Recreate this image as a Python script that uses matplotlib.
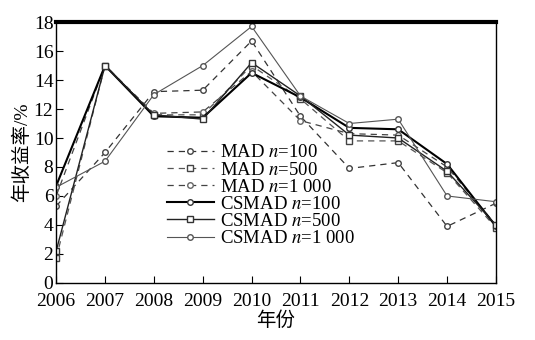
import matplotlib.pyplot as plt

plt.rcParams['font.family'] = ['Liberation Serif', 'Noto Sans CJK SC']
plt.rcParams['mathtext.fontset'] = 'stix'

years = [2006, 2007, 2008, 2009, 2010, 2011, 2012, 2013, 2014, 2015]

mad_100 = [5.3, 9.0, 13.2, 13.3, 16.7, 11.5, 7.9, 8.3, 3.9, 5.5]
mad_500 = [1.7, 15.0, 11.6, 11.6, 15.0, 12.7, 9.8, 9.8, 7.6, 3.8]
mad_1000 = [6.0, 15.0, 11.7, 11.8, 14.6, 11.2, 10.3, 10.2, 8.0, 4.0]
csmad_100 = [6.7, 15.0, 11.5, 11.4, 14.5, 12.8, 10.7, 10.6, 8.2, 3.9]
csmad_500 = [2.2, 15.0, 11.6, 11.3, 15.2, 12.9, 10.2, 10.0, 7.7, 4.0]
csmad_1000 = [6.6, 8.4, 13.0, 15.0, 17.7, 12.9, 11.0, 11.3, 6.0, 5.6]

labels = ['MAD $n$=100', 'MAD $n$=500', 'MAD $n$=1 000',
          'CSMAD $n$=100', 'CSMAD $n$=500', 'CSMAD $n$=1 000']

fig, ax = plt.subplots(figsize=(5.35, 3.4), dpi=100)
fig.subplots_adjust(left=0.105, right=0.927, top=0.935, bottom=0.168)

ax.plot(years, mad_100, ls=(0, (5, 4)), color='#333333', lw=0.9,
        marker='o', ms=4, mfc='white', mec='#444444', label=labels[0])
ax.plot(years, mad_500, ls=(0, (5, 4)), color='#555555', lw=0.9,
        marker='s', ms=4, mfc='white', mec='#444444', label=labels[1])
ax.plot(years, mad_1000, ls=(0, (5, 4)), color='#444444', lw=0.9,
        marker='o', ms=4, mfc='white', mec='#666666', label=labels[2])
ax.plot(years, csmad_100, ls='-', color='black', lw=1.5,
        marker='o', ms=4, mfc='white', mec='#333333', label=labels[3])
ax.plot(years, csmad_500, ls='-', color='#222222', lw=1.0,
        marker='s', ms=4, mfc='white', mec='#333333', label=labels[4])
ax.plot(years, csmad_1000, ls='-', color='#555555', lw=0.8,
        marker='o', ms=4, mfc='white', mec='#555555', label=labels[5])

ax.set_xlim(2006, 2015)
ax.set_ylim(0, 18)
ax.set_xticks(years)
ax.set_yticks(range(0, 19, 2))
ax.tick_params(direction='in', length=5, labelsize=14, width=0.8)
ax.tick_params(axis='x', pad=7)
ax.tick_params(axis='y', pad=2)
ax.spines['top'].set_linewidth(3)
for s in ['left', 'right', 'bottom']:
    ax.spines[s].set_linewidth(1.0)

ax.set_xlabel('年份', fontsize=14, labelpad=1)
ax.set_ylabel('年收益率/%', fontsize=14, labelpad=2)

ax.legend(loc='upper left', bbox_to_anchor=(0.235, 0.56), frameon=False,
          fontsize=13.5, handlelength=2.5, handletextpad=0.3,
          labelspacing=0.0, borderaxespad=0)

fig.savefig('out.png', dpi=100)
